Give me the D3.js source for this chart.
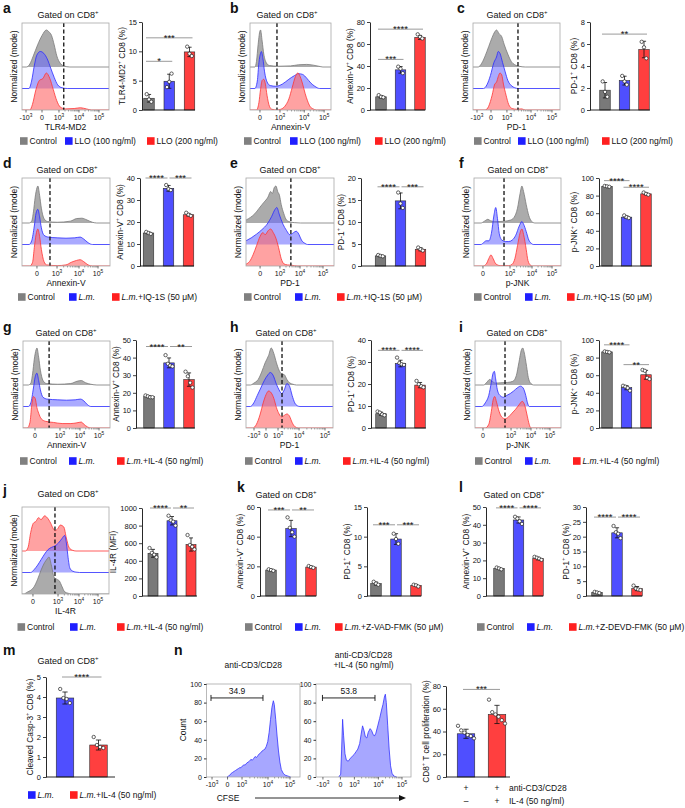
<!DOCTYPE html>
<html><head><meta charset="utf-8">
<script src="https://cdn.jsdelivr.net/npm/d3@7/dist/d3.min.js"></script>
<style>body{margin:0;background:#fff} svg{display:block}</style>
</head><body>
<svg id="c" width="685" height="808"></svg>
<script>
// ================= DATA =================
const groupsLLO = ["Control", "LLO (100 ng/ml)", "LLO (200 ng/ml)"];
const groupsIQ = ["Control", "{i:L.m.}", "{i:L.m.}+IQ-1S (50 μM)"];
const groupsIL4 = ["Control", "{i:L.m.}", "{i:L.m.}+IL-4 (50 ng/ml)"];
const groupsZVAD = ["Control", "{i:L.m.}", "{i:L.m.}+Z-VAD-FMK (50 μM)"];
const groupsZDEVD = ["Control", "{i:L.m.}", "{i:L.m.}+Z-DEVD-FMK (50 μM)"];
const groupsM = ["{i:L.m.}", "{i:L.m.}+IL-4 (50 ng/ml)"];

const ticks5 = ["-10{s:3}", "0", "10{s:3}", "10{s:4}", "10{s:5}"];
const ticks4 = ["0", "10{s:3}", "10{s:4}", "10{s:5}"];

// histogram tick positions (channel units 0-100)
const aTickPos = [4.6, 23, 42.5, 65.5, 88.5];
const bTickPos = [12.3, 37, 67, 91.5];
const cTickPos = [4.6, 20.7, 39, 66.7, 90.8];
const dTickPos = [17, 39.8, 64.8, 86.4];
const eTickPos = [16, 38.6, 61.4, 87.5];
const fTickPos = [10.3, 41.4, 66.7, 89.7];
const gTickPos = [13.8, 42.5, 65.5, 87.4];
const hTickPos = [9.2, 23, 36.8, 61, 90.8];
const iTickPos = [9.3, 41.9, 65.1, 87.2];
const jTickPos = [12.6, 41.4, 65.5, 87.4];
const n1TickPos = [5.9, 22.5, 38, 65.8, 89.3];
const n2TickPos = [7.3, 25.7, 40.4, 65.7, 90.5];

// histogram curves: [channel, normalized count]
const aCtrl = [[5,0],[9,0.08],[13,0.3],[18,0.6],[23,0.85],[28,1.0],[31,0.95],[34,0.85],[37,0.6],[40,0.3],[44,0.1],[48,0.03],[55,0]];
const aLLO100 = [[8,0],[11,0.2],[14,0.6],[17,0.9],[21,1.0],[25,0.95],[29,0.8],[33,0.55],[37,0.3],[41,0.1],[46,0.02],[52,0]];
const aLLO200 = [[9,0],[12,0.15],[16,0.55],[20,0.8],[24,0.85],[28,1.0],[32,0.85],[36,0.55],[40,0.25],[44,0.08],[50,0.03],[60,0.04],[67,0.06],[74,0.03],[80,0]];
const bCtrl = [[6,0],[8,0.15],[10,0.6],[12,0.95],[13,1.0],[15,0.7],[17,0.35],[20,0.12],[24,0.04],[35,0.02],[50,0.03],[60,0.06],[70,0.07],[78,0.05],[85,0.02],[90,0]];
const bLLO100 = [[6,0],[9,0.2],[11,0.7],[13,0.95],[14,1.0],[16,0.8],[18,0.45],[21,0.18],[25,0.08],[32,0.06],[40,0.12],[48,0.25],[55,0.35],[60,0.4],[65,0.38],[70,0.28],[75,0.15],[80,0.06],[86,0]];
const bLLO200 = [[8,0],[11,0.2],[13,0.55],[15,0.8],[17,0.83],[19,0.7],[21,0.4],[24,0.1],[27,0.02],[33,0],[38,0.02],[43,0.1],[48,0.3],[52,0.6],[56,0.9],[59,1.0],[62,0.9],[65,0.7],[68,0.45],[71,0.25],[74,0.1],[78,0.03],[82,0]];
const cCtrl = [[6,0],[10,0.1],[14,0.3],[18,0.55],[22,0.8],[25,0.95],[27,1.0],[30,0.9],[33,0.82],[36,0.6],[40,0.35],[44,0.15],[48,0.06],[53,0.02],[60,0]];
const cLLO100 = [[12,0],[16,0.1],[20,0.35],[24,0.7],[27,0.85],[29,1.0],[31,0.95],[34,0.7],[37,0.45],[40,0.22],[44,0.08],[48,0.02],[52,0]];
const cLLO200 = [[14,0],[18,0.1],[22,0.4],[25,0.7],[27,0.75],[29,0.9],[31,1.0],[33,0.95],[35,0.7],[38,0.4],[41,0.15],[45,0.04],[50,0.02],[56,0.03],[60,0]];
const dCtrl = [[8,0],[11,0.05],[13,0.3],[15,0.7],[17,0.95],[18,1.0],[20,0.75],[22,0.4],[25,0.12],[29,0.04],[40,0.02],[55,0.05],[62,0.12],[68,0.13],[74,0.08],[80,0.02],[85,0]];
const dLm = [[8,0],[11,0.1],[14,0.5],[16,0.85],[18,0.95],[20,0.75],[22,0.45],[25,0.25],[30,0.2],[40,0.18],[50,0.17],[60,0.18],[66,0.2],[70,0.15],[75,0.05],[80,0]];
const dLmIQ = [[9,0],[12,0.1],[14,0.5],[16,0.85],[18,1.0],[20,0.8],[22,0.45],[25,0.12],[28,0.03],[40,0.01],[50,0.03],[56,0.1],[62,0.15],[66,0.17],[70,0.12],[75,0.03],[80,0]];
const eCtrl = [[0,0.08],[5,0.15],[10,0.25],[15,0.4],[20,0.55],[25,0.7],[28,0.85],[30,0.8],[32,0.95],[34,1.0],[36,0.85],[38,0.75],[40,0.5],[43,0.25],[46,0.08],[50,0.03],[55,0.01],[62,0]];
const eLm = [[0,0.1],[6,0.18],[12,0.28],[18,0.4],[24,0.55],[29,0.75],[33,0.95],[35,1.0],[38,0.8],[42,0.55],[46,0.38],[50,0.26],[54,0.32],[57,0.36],[60,0.28],[63,0.12],[67,0.03],[70,0]];
const eLmIQ = [[0,0.05],[4,0.12],[8,0.3],[12,0.55],[16,0.8],[19,0.9],[22,0.85],[25,0.95],[28,1.0],[31,0.9],[34,0.75],[37,0.5],[40,0.2],[43,0.06],[47,0.03],[52,0.02],[58,0]];
const fCtrl = [[8,0],[12,0.05],[16,0.1],[19,0.06],[24,0.04],[30,0.04],[36,0.05],[42,0.08],[46,0.15],[50,0.4],[53,0.8],[55,1.0],[57,0.85],[60,0.5],[63,0.2],[66,0.05],[70,0]];
const fLm = [[8,0],[11,0.05],[14,0.1],[17,0.1],[20,0.3],[23,0.8],[25,1.0],[27,0.7],[29,0.3],[32,0.12],[36,0.08],[40,0.08],[44,0.12],[48,0.25],[52,0.5],[55,0.62],[57,0.55],[60,0.35],[63,0.12],[66,0.03],[68,0]];
const fLmIQ = [[10,0],[14,0.05],[17,0.2],[19.5,0.3],[22,0.2],[25,0.06],[30,0.01],[40,0.01],[44,0.05],[47,0.2],[50,0.55],[53,0.9],[55,1.0],[57,0.85],[60,0.45],[62,0.15],[65,0.02],[67,0]];
const gCtrl = [[6,0],[9,0.05],[11,0.3],[13,0.7],[15,0.95],[16,1.0],[18,0.75],[20,0.4],[23,0.12],[27,0.04],[40,0.02],[55,0.04],[62,0.1],[67,0.12],[72,0.06],[78,0.02],[85,0]];
const gLm = [[6,0],[9,0.1],[12,0.5],[14,0.8],[16,0.9],[18,0.7],[20,0.45],[23,0.25],[28,0.2],[40,0.18],[50,0.17],[60,0.18],[66,0.2],[70,0.15],[74,0.05],[78,0]];
const gLmIL4 = [[5,0],[8,0.15],[10,0.6],[12,0.85],[14,0.8],[16,0.55],[18,0.4],[21,0.25],[26,0.18],[35,0.15],[45,0.12],[55,0.12],[62,0.14],[67,0.16],[70,0.1],[74,0.03],[78,0]];
const hCtrl = [[5,0],[9,0.05],[14,0.15],[18,0.35],[22,0.6],[26,0.8],[29,1.0],[32,0.85],[35,0.6],[38,0.4],[41,0.3],[44,0.28],[47,0.15],[50,0.06],[54,0.02],[58,0]];
const hLm = [[5,0],[9,0.1],[13,0.3],[17,0.5],[21,0.7],[25,0.85],[28,0.92],[31,0.85],[35,0.6],[38,0.45],[41,0.35],[44,0.45],[47,0.62],[50,0.55],[53,0.3],[56,0.1],[59,0.02],[62,0]];
const hLmIL4 = [[8,0],[12,0.1],[16,0.35],[20,0.7],[23,0.9],[26,1.0],[29,0.95],[32,0.8],[35,0.55],[38,0.38],[41,0.3],[44,0.34],[47,0.38],[50,0.32],[53,0.15],[56,0.04],[60,0]];
const iCtrl = [[10,0],[14,0.08],[17,0.15],[20,0.1],[24,0.05],[30,0.06],[38,0.07],[44,0.1],[48,0.25],[51,0.6],[54,0.95],[55.5,1.0],[57,0.9],[60,0.5],[62,0.2],[65,0.04],[68,0]];
const iLm = [[8,0],[12,0.1],[16,0.3],[19,0.65],[21,0.9],[22.5,0.95],[24,0.75],[26,0.45],[29,0.3],[33,0.25],[37,0.3],[41,0.35],[45,0.42],[49,0.5],[53,0.55],[56,0.5],[59,0.3],[61,0.1],[63,0]];
const iLmIL4 = [[12,0],[16,0.1],[19,0.45],[21,0.75],[23,0.85],[25,0.7],[28,0.45],[31,0.3],[35,0.25],[39,0.3],[43,0.4],[47,0.5],[51,0.62],[55,0.72],[58,0.6],[61,0.3],[63,0.1],[65,0]];
const jLmIL4 = [[4,0],[7,0.1],[10,0.5],[13,0.75],[16,0.8],[19,0.9],[22,0.85],[26,0.95],[29,0.9],[33,0.75],[36,0.6],[38,0.55],[41,0.6],[44,0.7],[48,0.65],[51,0.35],[54,0.1],[58,0.02],[62,0]];
const jLm = [[10,0],[14,0.08],[18,0.2],[22,0.35],[26,0.5],[30,0.62],[34,0.68],[38,0.72],[42,0.8],[46,0.92],[49,1.0],[51,0.8],[53,0.4],[55,0.12],[58,0.04],[62,0.01],[66,0]];
const jCtrl = [[2,0],[6,0.05],[10,0.1],[14,0.2],[18,0.4],[22,0.65],[26,0.85],[29,0.95],[31,1.0],[34,0.75],[37,0.45],[40,0.4],[43,0.35],[46,0.2],[49,0.06],[53,0.02],[57,0]];
// CFSE histograms (count, % of max)
const nCD3 = [[22,0],[23.5,1],[25,2],[26.5,4],[28,5],[29.5,6],[31,7],[32.5,8],[34,9],[35.5,10],[37,10],[38.5,12],[40,13],[41.5,13],[43,15],[44.5,16],[46,17],[47.5,19],[49,18],[50.5,20],[52,22],[53.5,21],[55,23],[56.5,25],[58,26],[59.5,28],[61,29],[62.5,30],[64,33],[65.5,38],[67,48],[68.5,62],[70,75],[71.5,82],[72.5,78],[74,62],[75.5,44],[77,28],[78.5,16],[80,8],[82,4],[84,2],[87,1],[90,0]];
const nCD3IL4 = [[24,0],[26,3],[27,30],[28,62],[29,45],[30.5,25],[32,18],[34,17],[36,20],[38,22],[40,24],[42,27],[44,30],[46,36],[47.5,46],[49,55],[50.5,50],[52,43],[53.5,42],[55,48],[57,52],[58.5,50],[60,46],[61.5,44],[63,47],[65,55],[67,63],[69,72],[70.5,78],[72,86],[73,89],[74,80],[75.5,55],[77,30],[78.5,12],[80,4],[82,1],[85,0]];
const nGate1 = [4.8, 60.4, 85, "34.9"];
const nGate2 = [6.8, 62.1, 85, "53.8"];

// bar data
const aMeans = [2.0, 4.9, 9.9], aErr = [0.65, 1.2, 0.8], aPts = [[2.7,1.8,1.4],[3.9,4.8,6.2],[10.8,9.6,9.2]], aYT = [0,5,10,15];
const aSig = [[0,1,8.3,"*"],[0,2,12.3,"***"]];
const bMeans = [12, 36.5, 66], bErr = [1.0, 3.0, 1.8], bPts = [[13.5,12,11.5],[39.4,37.5,33.5],[68.8,66.5,65]], bYT = [0,20,40,60,80];
const bSig = [[0,1,46,"***"],[0,2,73.5,"****"]];
const cMeans = [1.8, 2.67, 5.5], cErr = [0.7, 0.4, 0.75], cPts = [[2.6,1.65,1.2],[3.1,2.6,2.3],[6.2,5.7,4.7]], cYT = [0,2,4,6,8];
const cSig = [[0,2,6.9,"**"]];
const dMeans = [15, 35.3, 23.3], dErr = [0.4, 1.3, 0.6], dPts = [[15.5,15,14.6],[36.8,35.0,34.5],[24.2,23.3,22.8]], dYT = [0,10,20,30,40];
const dSig = [[0,1,40,"****"],[1,2,40,"***"]];
const eMeans = [2.3, 14.8, 3.8], eErr = [0.2, 1.8, 0.35], ePts = [[2.5,2.3,2.2],[16.7,14.2,13.2],[4.2,3.8,3.5]], eYT = [0,5,10,15,20];
const eSig = [[0,1,18,"****"],[1,2,18,"***"]];
const fMeans = [90.5, 55.5, 82], fErr = [0.5, 1.3, 1.0], fPts = [[91,90.5,90],[57.5,55.5,54.5],[83.5,82,81]], fYT = [0,20,40,60,80,100];
const fSig = [[0,1,97,"****"],[1,2,89.5,"****"]];
const gMeans = [17.8, 37, 27.5], gErr = [0.5, 2.8, 3.8], gPts = [[18.5,18,17.5,17.5],[41.4,36.5,35.5,35],[32,29.4,25.7,23]], gYT = [0,10,20,30,40,50];
const gSig = [[0,1,46.3,"****"],[1,2,46.3,"**"]];
const hMeans = [6.5, 29.3, 19.5], hErr = [0.7, 1.5, 1.2], hPts = [[7.5,7,6.2,5.8],[32,29.5,29,28.7],[21.4,19.9,19,18.5]], hYT = [0,10,20,30,40];
const hSig = [[0,1,35.3,"****"],[1,2,35.3,"****"]];
const iMeans = [86.5, 45.8, 60.5], iErr = [0.6, 2.3, 5], iPts = [[87,86.5,86],[48,47,45.5,42.5],[66,65,57,55.6]], iYT = [0,20,40,60,80,100];
const iSig = [[0,1,94.5,"****"],[1,2,72,"**"]];
const jMeans = [485, 855, 585], jErr = [45, 48, 75], jPts = [[545,490,470,440],[912,860,845,800],[693,580,560,530]], jYT = [0,200,400,600,800,1000];
const jSig = [[0,1,1000,"****"],[1,2,1000,"**"]];
const k1Means = [17.5, 45.5, 19.5], k1Err = [0.5, 5.5, 0.6], k1Pts = [[18,17.5,17],[53,46,43,40],[20.2,19.5,19]], k1YT = [0,20,40,60];
const k1Sig = [[0,1,58,"***"],[1,2,58,"**"]];
const k2Means = [2.1, 9.6, 1.8], k2Err = [0.25, 0.9, 0.15], k2Pts = [[2.4,2.1,1.9],[10.5,9.6,8.8],[1.9,1.8,1.6]], k2YT = [0,5,10,15];
const k2Sig = [[0,1,12,"***"],[1,2,12,"***"]];
const l1Means = [15.5, 42.7, 21], l1Err = [0.5, 1.7, 0.7], l1Pts = [[16,15.5,15],[44.5,43.5,42,40.5],[22,21.5,21,20.3]], l1YT = [0,10,20,30,40,50];
const l1Sig = [[0,1,49.5,"****"],[1,2,49.5,"****"]];
const l2Means = [1.2, 21.3, 2.5], l2Err = [0.2, 1.7, 0.7], l2Pts = [[1.4,1.2,1.0],[23.6,21.5,21,19.5],[3.5,2.5,2.2,2.0]], l2YT = [0,5,10,15,20,25,30];
const l2Sig = [[0,1,26.6,"****"],[1,2,26.6,"****"]];
const mMeans = [3.95, 1.6], mErr = [0.3, 0.25], mPts = [[4.4,3.95,3.9,3.7],[2.0,1.6,1.5,1.45]], mYT = [0,1,2,3,4,5];
const mSig = [[0,1,5.0,"****"]];
const nMeans = [38, 55], nErr = [4, 8], nPts = [[45,41,39,37,36,34],[68,57,55,53,50,47]], nYT = [0,20,40,60,80];
const nSig = [[0,1,77,"***"]];
const nTableRows = [["+","+","anti-CD3/CD28"],["–","+","IL-4 (50 ng/ml)"]];

// ================= DRAWING =================
const svg = d3.select("#c");
const F = "'Liberation Sans', Arial, Helvetica, sans-serif";
const BARC = {gray: "#797979", blue: "#4f4fff", red: "#ff3f3f"};
const LEGC = {gray: "#808080", blue: "#1f1fff", red: "#ff1f1f"};
const HS = {
  gray: {fill: "#9c9c9c", op: 0.85, stroke: "#7a7a7a"},
  blue: {fill: "#6464ff", op: 0.55, stroke: "#2a2aff"},
  red: {fill: "#ff6464", op: 0.6, stroke: "#ff3434"}
};

function rich(t, str, size) {
  const re = /\{(s|i):([^}]*)\}/g;
  let last = 0, m; const parts = [];
  while ((m = re.exec(str))) {
    if (m.index > last) parts.push({t: str.slice(last, m.index), k: "n"});
    parts.push({t: m[2], k: m[1]});
    last = re.lastIndex;
  }
  if (last < str.length) parts.push({t: str.slice(last), k: "n"});
  let up = false;
  parts.forEach(p => {
    const ts = t.append("tspan").text(p.t);
    if (p.k === "s") { ts.attr("font-size", size * 0.68).attr("dy", -size * 0.42); up = true; }
    else {
      if (up) { ts.attr("dy", size * 0.42); up = false; }
      if (p.k === "i") ts.attr("font-style", "italic");
    }
  });
  return t;
}
function txt(x, y, str, size, o = {}) {
  const t = svg.append("text").attr("x", x).attr("y", y).attr("font-size", size)
    .attr("font-family", F).attr("fill", o.fill || "#111");
  if (o.anchor) t.attr("text-anchor", o.anchor);
  if (o.weight) t.attr("font-weight", o.weight);
  if (o.rotate) t.attr("transform", `rotate(-90 ${x} ${y})`);
  rich(t, str, size);
  return t;
}
function line(x1, y1, x2, y2, stroke, w, dash) {
  const l = svg.append("line").attr("x1", x1).attr("y1", y1).attr("x2", x2).attr("y2", y2)
    .attr("stroke", stroke).attr("stroke-width", w);
  if (dash) l.attr("stroke-dasharray", dash);
  return l;
}

function xTicks(x, y1, pos, labels) {
  pos.forEach((p, i) => {
    line(x(p), y1, x(p), y1 + 2.5, "#333", 0.7);
    txt(x(p), y1 + 9.5, labels[i], 7, {anchor: "middle"});
  });
  for (let i = 0; i < labels.length - 1; i++) {
    if (labels[i].startsWith("10") && labels[i + 1].startsWith("10")) {
      for (let k = 2; k <= 9; k++) {
        const p = pos[i] + Math.log10(k) * (pos[i + 1] - pos[i]);
        line(x(p), y1, x(p), y1 + 1.5, "#555", 0.5);
      }
    }
  }
}

let clipN = 0;
function drawRidge(c) {
  const x = d3.scaleLinear().domain([0, 100]).range([c.x0, c.x1]);
  const step = 21.5;
  const h = d3.scaleLinear().domain([0, 1]).range([0, 37]);
  const id = "clip" + (clipN++);
  svg.append("clipPath").attr("id", id).append("rect")
    .attr("x", c.x0).attr("y", c.y0).attr("width", c.x1 - c.x0).attr("height", c.y1 - c.y0);
  const g = svg.append("g").attr("clip-path", `url(#${id})`);
  const n = c.curves.length;
  c.curves.forEach((cv, i) => {
    const base = c.y1 - (n - 1 - i) * step;
    let pts = cv[0].slice();
    if (pts[0][0] > 0) pts.unshift([0, 0]);
    if (pts[pts.length - 1][0] < 100) pts.push([100, 0]);
    const st = HS[cv[1]];
    const area = d3.area().x(d => x(d[0])).y0(base).y1(d => base - h(d[1])).curve(d3.curveMonotoneX);
    const ln = d3.line().x(d => x(d[0])).y(d => base - h(d[1])).curve(d3.curveMonotoneX);
    g.append("path").attr("d", area(pts)).attr("fill", st.fill).attr("fill-opacity", st.op);
    g.append("path").attr("d", ln(pts)).attr("fill", "none").attr("stroke", st.stroke).attr("stroke-width", 0.8);
  });
  line(x(c.dash), c.y0, x(c.dash), c.y1, "#111", 1.3, "4,2.5");
  svg.append("rect").attr("x", c.x0).attr("y", c.y0).attr("width", c.x1 - c.x0).attr("height", c.y1 - c.y0)
    .attr("fill", "none").attr("stroke", "#a8a8a8").attr("stroke-width", 0.8);
  xTicks(x, c.y1, c.tickPos, c.tickLab);
  txt((c.x0 + c.x1) / 2, c.y1 + 20, c.title, 8.5, {anchor: "middle"});
  txt(c.x0 - 5, (c.y0 + c.y1) / 2, "Normalized (mode)", 8.5, {anchor: "middle", rotate: true});
}

function drawBars(c) {
  const y = d3.scaleLinear().domain([0, c.max]).range([c.yb, c.yt]);
  const x = d3.scalePoint().domain(d3.range(c.means.length)).range([c.c0, c.c1]);
  const cols = c.colors || ["gray", "blue", "red"];
  const g = svg.append("g");
  g.selectAll("rect").data(c.means).join("rect")
    .attr("x", (d, i) => x(i) - c.bw / 2).attr("y", d => y(d))
    .attr("width", c.bw).attr("height", d => y(0) - y(d))
    .attr("fill", (d, i) => BARC[cols[i]]).attr("stroke", "#2a2a2a").attr("stroke-width", 0.6);
  c.means.forEach((m, i) => {
    const e = c.err[i], cx = x(i), cw = Math.min(2.6, c.bw * 0.2);
    line(cx, y(m + e), cx, y(m - e), "#111", 0.8);
    line(cx - cw, y(m + e), cx + cw, y(m + e), "#111", 0.8);
    line(cx - cw, y(m - e), cx + cw, y(m - e), "#111", 0.8);
  });
  const spread = c.bw > 14 ? 3.2 : 2.3;
  c.pts.forEach((arr, i) => arr.forEach((v, j) => {
    const off = (j - (arr.length - 1) / 2) * spread;
    svg.append("circle").attr("cx", x(i) + off).attr("cy", y(v)).attr("r", 1.7)
      .attr("fill", "#fff").attr("stroke", "#222").attr("stroke-width", 0.7);
  }));
  const ax = d3.axisLeft(y).tickValues(c.ticks).tickSize(3).tickSizeOuter(0).tickPadding(2).tickFormat(d3.format("d"));
  const ag = svg.append("g").attr("transform", `translate(${c.ax},0)`).call(ax);
  ag.selectAll("text").attr("font-size", 7.5).attr("font-family", F).attr("fill", "#111");
  ag.select(".domain").attr("stroke", "#111").attr("stroke-width", 0.9);
  ag.selectAll(".tick line").attr("stroke", "#111").attr("stroke-width", 0.8);
  line(c.ax, y(0), c.xend, y(0), "#111", 0.9);
  c.sig.forEach(s => {
    let x1 = x(s[0]) - 3, x2 = x(s[1]) + 3;
    c.sig.forEach(o => {
      if (o === s || o[2] !== s[2]) return;
      if (o[0] === s[1]) x2 -= 4;
      if (o[1] === s[0]) x1 += 4;
    });
    line(x1, y(s[2]), x2, y(s[2]), "#9a9a9a", 1);
    txt((x1 + x2) / 2, y(s[2]) + 3, s[3], 9.5, {anchor: "middle"});
  });
  const maxLen = d3.max(c.ticks, t => String(t).length);
  txt(c.ax - 9 - maxLen * 4.2, (c.yt + c.yb) / 2, c.ylab, 8.3, {anchor: "middle", rotate: true});
}

function legend(y, xs, labels, cols) {
  labels.forEach((l, i) => {
    svg.append("rect").attr("x", xs[i]).attr("y", y - 3.8).attr("width", 7.6).attr("height", 7.6).attr("fill", LEGC[cols[i]]);
    txt(xs[i] + 9.5, y + 3, l, 8.5);
  });
}

function gated(x, y) { txt(x, y, "Gated on CD8{s:+}", 9, {anchor: "middle"}); }
function letter(x, y, s) { txt(x, y, s, 14, {weight: "bold"}); }

function drawCfse(c) {
  const x = d3.scaleLinear().domain([0, 100]).range([c.x0, c.x1]);
  const y = d3.scaleLinear().domain([0, 100]).range([c.y1, c.y0]);
  svg.append("path").attr("d", d3.area().x(d => x(d[0])).y0(c.y1).y1(d => y(d[1]))(c.data))
    .attr("fill", "#8a8aff").attr("fill-opacity", 0.75);
  svg.append("path").attr("d", d3.line().x(d => x(d[0])).y(d => y(d[1]))(c.data))
    .attr("fill", "none").attr("stroke", "#3434ff").attr("stroke-width", 0.8);
  svg.append("rect").attr("x", c.x0).attr("y", c.y0).attr("width", c.x1 - c.x0).attr("height", c.y1 - c.y0)
    .attr("fill", "none").attr("stroke", "#a8a8a8").attr("stroke-width", 0.8);
  const ax = d3.axisLeft(y).tickValues([0, 20, 40, 60, 80, 100]).tickSize(2.5).tickSizeOuter(0).tickPadding(2);
  const ag = svg.append("g").attr("transform", `translate(${c.x0},0)`).call(ax);
  ag.selectAll("text").attr("font-size", 7).attr("font-family", F).attr("fill", "#111");
  ag.select(".domain").remove();
  ag.selectAll(".tick line").attr("stroke", "#333");
  xTicks(x, c.y1, c.tickPos, ticks5);
  const gy = y(c.gate[2]);
  line(x(c.gate[0]), gy, x(c.gate[1]), gy, "#111", 0.9);
  line(x(c.gate[0]), gy - 3, x(c.gate[0]), gy + 3, "#111", 0.9);
  line(x(c.gate[1]), gy - 3, x(c.gate[1]), gy + 3, "#111", 0.9);
  txt((x(c.gate[0]) + x(c.gate[1])) / 2, gy - 4, c.gate[3], 8.5, {anchor: "middle"});
  const nT = c.titles.length;
  c.titles.forEach((t, i) => txt((c.x0 + c.x1) / 2, c.y0 - 16 - (nT - 1 - i) * 10, t, 8.5, {anchor: "middle"}));
}

const C3 = ["gray", "blue", "red"];

// ---------- Row 1 ----------
letter(3, 13, "a"); letter(230, 13, "b"); letter(457, 13, "c");
gated(68, 18); gated(287, 18); gated(517, 18);
drawRidge({x0: 22, x1: 109, y0: 23, y1: 110, dash: 48, tickPos: aTickPos, tickLab: ticks5, title: "TLR4-MD2",
  curves: [[aCtrl, "gray"], [aLLO100, "blue"], [aLLO200, "red"]]});
drawBars({max: 15, yt: 22, yb: 110, c0: 149, c1: 189.5, bw: 10.5, ax: 142, xend: 195, means: aMeans, err: aErr, pts: aPts, ticks: aYT, sig: aSig, ylab: "TLR4-MD2{s:+} CD8 (%)"});
drawRidge({x0: 250, x1: 331, y0: 23, y1: 110, dash: 33.3, tickPos: bTickPos, tickLab: ticks4, title: "Annexin-V",
  curves: [[bCtrl, "gray"], [bLLO100, "blue"], [bLLO200, "red"]]});
drawBars({max: 80, yt: 22, yb: 110, c0: 381, c1: 420, bw: 10.5, ax: 370, xend: 425, means: bMeans, err: bErr, pts: bPts, ticks: bYT, sig: bSig, ylab: "Annexin-V{s:+} CD8 (%)"});
drawRidge({x0: 473, x1: 560, y0: 23, y1: 110, dash: 51.7, tickPos: cTickPos, tickLab: ticks5, title: "PD-1",
  curves: [[cCtrl, "gray"], [cLLO100, "blue"], [cLLO200, "red"]]});
drawBars({max: 8, yt: 22, yb: 110, c0: 605, c1: 644, bw: 10.5, ax: 590, xend: 650, means: cMeans, err: cErr, pts: cPts, ticks: cYT, sig: cSig, ylab: "PD-1{s:+} CD8 (%)"});
legend(141, [20, 65, 147], groupsLLO, C3);
legend(141, [244, 290, 375], groupsLLO, C3);
legend(141, [474, 518, 602], groupsLLO, C3);

// ---------- Row 2 ----------
letter(3, 168, "d"); letter(230, 168, "e"); letter(459, 168, "f");
gated(67, 173); gated(290, 173); gated(518, 173);
drawRidge({x0: 22, x1: 110, y0: 178, y1: 266, dash: 31.8, tickPos: dTickPos, tickLab: ticks4, title: "Annexin-V",
  curves: [[dCtrl, "gray"], [dLm, "blue"], [dLmIQ, "red"]]});
drawBars({max: 40, yt: 178, yb: 266, c0: 148.5, c1: 188.5, bw: 10.5, ax: 140, xend: 194, means: dMeans, err: dErr, pts: dPts, ticks: dYT, sig: dSig, ylab: "Annexin-V{s:+} CD8 (%)"});
drawRidge({x0: 246, x1: 334, y0: 178, y1: 266, dash: 51, tickPos: eTickPos, tickLab: ticks4, title: "PD-1",
  curves: [[eCtrl, "gray"], [eLm, "blue"], [eLmIQ, "red"]]});
drawBars({max: 20, yt: 178, yb: 266, c0: 380.5, c1: 420.5, bw: 10.5, ax: 361, xend: 426, means: eMeans, err: eErr, pts: ePts, ticks: eYT, sig: eSig, ylab: "PD-1{s:+} CD8 (%)"});
drawRidge({x0: 474, x1: 561, y0: 178, y1: 266, dash: 34.5, tickPos: fTickPos, tickLab: ticks4, title: "p-JNK",
  curves: [[fCtrl, "gray"], [fLm, "blue"], [fLmIQ, "red"]]});
drawBars({max: 100, yt: 178, yb: 266, c0: 607, c1: 646, bw: 10.5, ax: 599, xend: 652, means: fMeans, err: fErr, pts: fPts, ticks: fYT, sig: fSig, ylab: "p-JNK{s:+} CD8 (%)"});
legend(297, [18, 69, 112], groupsIQ, C3);
legend(297, [244, 295, 337], groupsIQ, C3);
legend(297, [474, 525, 567], groupsIQ, C3);

// ---------- Row 3 ----------
letter(3, 332, "g"); letter(230, 332, "h"); letter(459, 332, "i");
gated(66, 336); gated(286, 336); gated(517, 336);
drawRidge({x0: 23, x1: 110, y0: 341, y1: 428, dash: 30, tickPos: gTickPos, tickLab: ticks4, title: "Annexin-V",
  curves: [[gCtrl, "gray"], [gLm, "blue"], [gLmIL4, "red"]]});
drawBars({max: 50, yt: 340, yb: 428, c0: 149, c1: 189, bw: 10.5, ax: 136, xend: 195, means: gMeans, err: gErr, pts: gPts, ticks: gYT, sig: gSig, ylab: "Annexin-V{s:+} CD8 (%)"});
drawRidge({x0: 246, x1: 333, y0: 341, y1: 428, dash: 41.4, tickPos: hTickPos, tickLab: ticks5, title: "PD-1",
  curves: [[hCtrl, "gray"], [hLm, "blue"], [hLmIL4, "red"]]});
drawBars({max: 40, yt: 340, yb: 428, c0: 381, c1: 420, bw: 10.5, ax: 371, xend: 426, means: hMeans, err: hErr, pts: hPts, ticks: hYT, sig: hSig, ylab: "PD-1{s:+} CD8 (%)"});
drawRidge({x0: 475, x1: 561, y0: 341, y1: 428, dash: 34.9, tickPos: iTickPos, tickLab: ticks4, title: "p-JNK",
  curves: [[iCtrl, "gray"], [iLm, "blue"], [iLmIL4, "red"]]});
drawBars({max: 100, yt: 340, yb: 428, c0: 607, c1: 646, bw: 10.5, ax: 599, xend: 652, means: iMeans, err: iErr, pts: iPts, ticks: iYT, sig: iSig, ylab: "p-JNK{s:+} CD8 (%)"});
legend(461, [20, 69, 117], groupsIL4, C3);
legend(461, [245, 295, 343], groupsIL4, C3);
legend(461, [475, 525, 573], groupsIL4, C3);

// ---------- Row 4 ----------
letter(3, 495, "j"); letter(237, 492, "k"); letter(459, 492, "l");
gated(68, 497); gated(286, 498); gated(514, 498);
drawRidge({x0: 22, x1: 109, y0: 507, y1: 594, dash: 37.9, tickPos: jTickPos, tickLab: ticks4, title: "IL-4R",
  curves: [[jLmIL4, "red"], [jLm, "blue"], [jCtrl, "gray"]]});
drawBars({max: 1000, yt: 508, yb: 596, c0: 153, c1: 191, bw: 10, ax: 142, xend: 197, means: jMeans, err: jErr, pts: jPts, ticks: jYT, sig: jSig, ylab: "IL-4R (MFI)"});
drawBars({max: 60, yt: 507, yb: 596, c0: 271, c1: 311, bw: 10.5, ax: 260, xend: 316, means: k1Means, err: k1Err, pts: k1Pts, ticks: k1YT, sig: k1Sig, ylab: "Annexin-V{s:+} CD8 (%)"});
drawBars({max: 15, yt: 507, yb: 596, c0: 376, c1: 416, bw: 10.5, ax: 367, xend: 421, means: k2Means, err: k2Err, pts: k2Pts, ticks: k2YT, sig: k2Sig, ylab: "PD-1{s:+} CD8 (%)"});
drawBars({max: 50, yt: 507, yb: 596, c0: 499, c1: 538, bw: 10.5, ax: 486, xend: 543, means: l1Means, err: l1Err, pts: l1Pts, ticks: l1YT, sig: l1Sig, ylab: "Annexin-V{s:+} CD8 (%)"});
drawBars({max: 30, yt: 507, yb: 596, c0: 597, c1: 637, bw: 10.5, ax: 586, xend: 642, means: l2Means, err: l2Err, pts: l2Pts, ticks: l2YT, sig: l2Sig, ylab: "PD-1{s:+} CD8 (%)"});
legend(627, [17.5, 70, 117], groupsIL4, C3);
legend(627, [245, 295, 335], groupsZVAD, C3);
legend(627, [477, 527, 569], groupsZDEVD, C3);

// ---------- Row 5 ----------
letter(3, 655, "m"); letter(174, 655, "n");
gated(68, 664);
drawBars({max: 5, yt: 677, yb: 777, c0: 65, c1: 98.5, bw: 17.5, ax: 46, xend: 115, means: mMeans, err: mErr, pts: mPts, ticks: mYT, sig: mSig, colors: ["blue", "red"], ylab: "Cleaved Casp-3{s:+} CD8 (%)"});
legend(795, [28, 70], groupsM, ["blue", "red"]);
drawCfse({x0: 206.5, x1: 300, y0: 684, y1: 777, data: nCD3, tickPos: n1TickPos, gate: nGate1, titles: ["anti-CD3/CD28"]});
drawCfse({x0: 316, x1: 411, y0: 684, y1: 777, data: nCD3IL4, tickPos: n2TickPos, gate: nGate2, titles: ["anti-CD3/CD28", "+IL-4 (50 ng/ml)"]});
txt(186, 730, "Count", 8.5, {anchor: "middle", rotate: true});
txt(228, 801, "CFSE", 8.5, {anchor: "middle"});
line(255, 798, 402, 798, "#111", 0.9);
svg.append("path").attr("d", "M406,798 L399,795 L399,801 Z").attr("fill", "#111");
drawBars({max: 80, yt: 686, yb: 777, c0: 466, c1: 497, bw: 17.5, ax: 446, xend: 510, means: nMeans, err: nErr, pts: nPts, ticks: nYT, sig: nSig, colors: ["blue", "red"], ylab: "CD8{s:+} T cell proliferation (%)"});
nTableRows.forEach((r, i) => {
  const yy = 791 + i * 13;
  txt(466, yy, r[0], 8.5, {anchor: "middle"});
  txt(497, yy, r[1], 8.5, {anchor: "middle"});
  txt(509, yy, r[2], 8.5);
});
</script>
</body></html>
